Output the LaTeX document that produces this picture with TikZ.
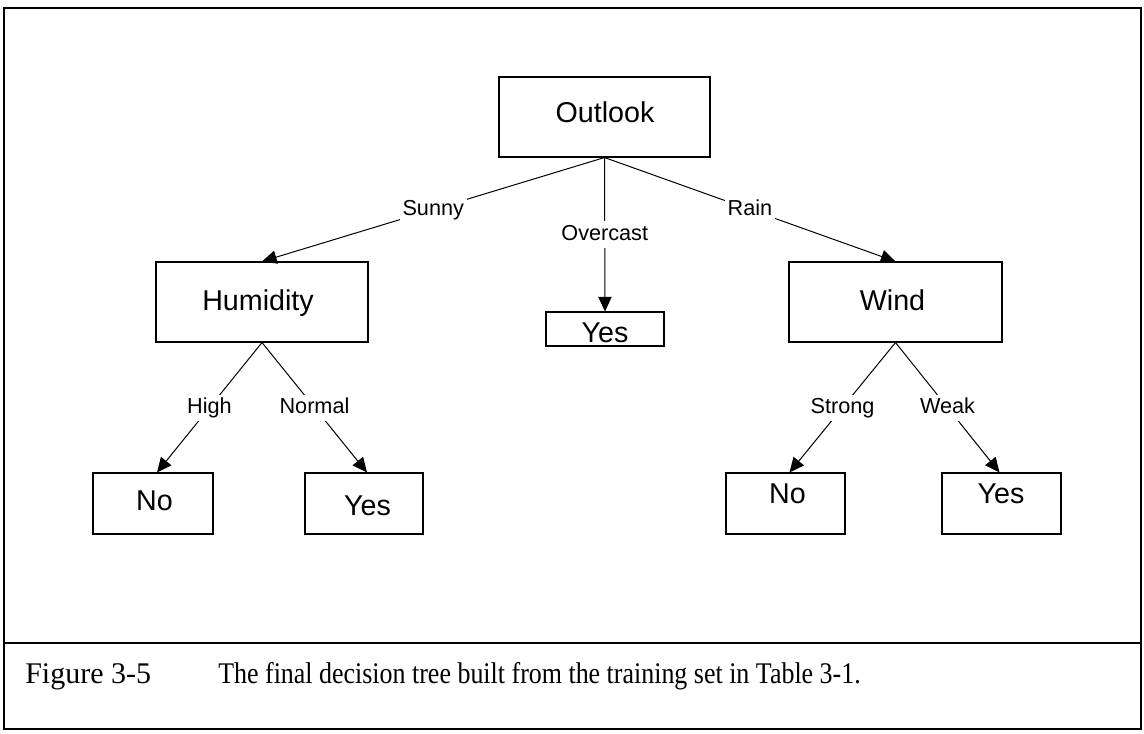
\documentclass[tikz,border=0pt]{standalone}
\usepackage{fontspec}
\usepackage{graphicx}
\setmainfont{Liberation Serif}
\newfontfamily\diagfont{Liberation Sans}
\usetikzlibrary{arrows.meta,calc}
\begin{document}
\begin{tikzpicture}[x=0.75pt,y=-0.75pt,
  box/.style={draw, line width=0.8pt, inner sep=0pt, rectangle},
  ntext/.style={font=\diagfont\fontsize{21.5pt}{24pt}\selectfont, inner sep=0pt, anchor=base},
  elabel/.style={font=\diagfont\fontsize{16.25pt}{18pt}\selectfont, fill=white, inner sep=2pt, text height=12pt, text depth=3.5pt},
  conn/.style={line width=0.75pt, -{Triangle[length=11pt,width=10pt]}},
  outerframe/.style={line width=1.5pt},
  captext/.style={font=\fontsize{22.5pt}{26pt}\selectfont, inner sep=0pt, anchor=base west}]
\useasboundingbox (0,0) rectangle (1144,734);
\fill[white] (0,0) rectangle (1144,734);
% frame
\draw[outerframe] (4,8) rectangle (1141,729);
\draw[outerframe] (4,643) -- (1141,643);
% boxes
\node[box, minimum width=158.25pt, minimum height=60pt] (out) at (604.5,117) {};
\node[box, minimum width=159pt, minimum height=60pt] (hum) at (262,302) {};
\node[box, minimum width=159.75pt, minimum height=60pt] (wind) at (895.5,302) {};
\node[box, minimum width=88.5pt, minimum height=25.5pt] (yesm) at (605,329) {};
\node[box, minimum width=90pt, minimum height=45.75pt] (nol) at (153,503.5) {};
\node[box, minimum width=88.5pt, minimum height=45.75pt] (yesl) at (364,503.5) {};
\node[box, minimum width=89.25pt, minimum height=45.75pt] (nor) at (785.5,503.5) {};
\node[box, minimum width=89.25pt, minimum height=45.75pt] (yesr) at (1001.5,503.5) {};
% box texts
\node[ntext] (t-out) at (605,123) {Outlook};
\node[ntext] (t-hum) at (258,310) {Humidity};
\node[ntext] (t-wind) at (892.5,310) {Wind};
\node[ntext] (t-yesm) at (605,342) {Yes};
\node[ntext] (t-nol) at (154.5,510) {No};
\node[ntext] (t-yesl) at (367.5,515) {Yes};
\node[ntext] (t-nor) at (787.5,503) {No};
\node[ntext] (t-yesr) at (1001,503) {Yes};
% connectors
\draw[conn] (out.south) -- node[elabel] (l-sunny) {Sunny} (hum.north);
\draw[conn] (out.south) -- node[elabel] (l-over) {Overcast} (yesm.north);
\draw[conn] (out.south) -- node[elabel] (l-rain) {Rain} (wind.north);
\draw[conn] (hum.south) -- node[elabel] (l-high) {High} ($(nol.north)+(4,0)$);
\draw[conn] (hum.south) -- node[elabel] (l-norm) {Normal} ($(yesl.north)+(3,0)$);
\draw[conn] (wind.south) -- node[elabel] (l-strong) {Strong} ($(nor.north)+(4,0)$);
\draw[conn] (wind.south) -- node[elabel] (l-weak) {Weak} ($(yesr.north)+(-2,0)$);
% caption
\node[captext] (cap1) at (25,683) {Figure 3-5};
\node[captext] (cap2) at (218,683) {\scalebox{0.865}[1]{The final decision tree built from the training set in Table 3-1.}};
\end{tikzpicture}
\end{document}
